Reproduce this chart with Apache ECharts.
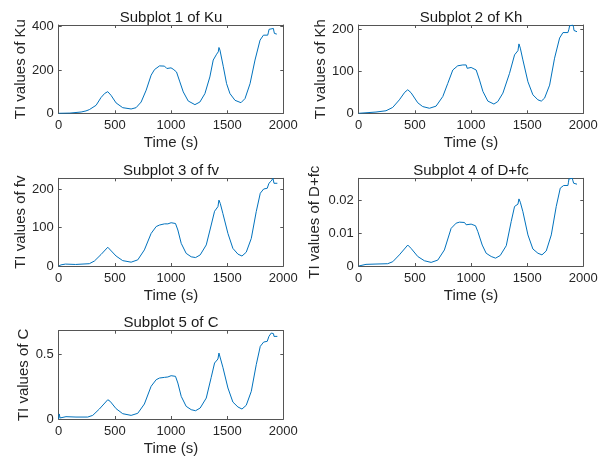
<!DOCTYPE html>
<html>
<head>
<meta charset="utf-8">
<script src="https://cdn.jsdelivr.net/npm/echarts@6/dist/echarts.min.js"></script>
<style>html,body{margin:0;padding:0;background:#fff}#c{width:613px;height:464px}</style>
</head>
<body>
<div id="c"></div>
<script>
// ---- data ----
const titles = ['Subplot 1 of Ku', 'Subplot 2 of Kh', 'Subplot 3 of fv', 'Subplot 4 of D+fc', 'Subplot 5 of C'];
const yNames = ['TI values of Ku', 'TI values of Kh', 'TI values of fv', 'TI values of D+fc', 'TI values of C'];
const xTicks = [0, 500, 1000, 1500, 2000];

const tKu = [0, 100, 200, 243, 273, 333, 377, 410, 437, 466, 511, 570, 645, 689, 734, 779, 823, 853, 898, 942, 958, 963, 1000, 1019, 1049, 1079, 1109, 1153, 1213, 1257, 1302, 1346, 1376, 1406, 1421, 1427, 1436, 1466, 1495, 1525, 1570, 1623, 1659, 1704, 1748, 1793, 1823, 1861, 1868, 1873, 1912, 1916, 1921, 1942];
const vKu = [0, 1, 6, 11, 17, 37, 73, 92, 100, 83, 48, 26, 20, 26, 52, 107, 176, 202, 219, 218, 217, 207, 210, 204, 191, 145, 99, 57, 40, 52, 91, 168, 246, 273, 284, 304, 292, 215, 137, 91, 60, 49, 68, 137, 246, 338, 361, 361, 375, 388, 392, 380, 369, 366];

const tKh = [0, 154, 243, 303, 362, 410, 437, 466, 526, 570, 630, 689, 749, 793, 838, 882, 927, 957, 966, 1001, 1046, 1076, 1106, 1150, 1204, 1239, 1284, 1343, 1388, 1418, 1427, 1439, 1462, 1507, 1551, 1596, 1626, 1655, 1700, 1744, 1789, 1819, 1863, 1872, 1878, 1908, 1913, 1917, 1944];
const vKh = [0, 3, 6, 14, 32, 50, 56, 49, 25, 16, 12, 17, 40, 71, 103, 113, 115, 115, 107, 109, 103, 79, 52, 29, 22, 28, 48, 95, 139, 149, 165, 155, 127, 75, 44, 32, 29, 36, 67, 131, 179, 192, 192, 200, 208, 210, 205, 197, 194];

const tFv = [0, 21, 60, 150, 273, 318, 377, 437, 452, 511, 570, 645, 704, 763, 823, 868, 898, 942, 957, 972, 1001, 1040, 1061, 1091, 1135, 1180, 1219, 1260, 1314, 1358, 1388, 1418, 1427, 1439, 1462, 1507, 1551, 1596, 1632, 1670, 1715, 1759, 1795, 1825, 1857, 1872, 1893, 1908, 1913, 1917, 1947];
const vFv = [0, 3, 5, 4, 6, 13, 30, 49, 46, 26, 14, 10, 16, 42, 85, 103, 107, 110, 105, 110, 113, 111, 94, 59, 33, 24, 22, 29, 55, 107, 143, 155, 172, 163, 137, 85, 46, 31, 26, 36, 72, 142, 190, 201, 203, 216, 222, 229, 222, 216, 216];

const tDfc = [0, 65, 154, 258, 303, 362, 437, 466, 526, 585, 645, 704, 763, 823, 868, 898, 942, 957, 1001, 1040, 1061, 1100, 1135, 1180, 1219, 1260, 1314, 1358, 1388, 1418, 1427, 1439, 1462, 1507, 1551, 1596, 1632, 1670, 1715, 1759, 1795, 1825, 1863, 1868, 1872, 1902, 1908, 1914, 1944];
const vDfc = [0, 0.0005, 0.0006, 0.0007, 0.0013, 0.0034, 0.0064, 0.0054, 0.0029, 0.0016, 0.0011, 0.0018, 0.0049, 0.0115, 0.0131, 0.0134, 0.0133, 0.0126, 0.0128, 0.0123, 0.0105, 0.0064, 0.0039, 0.0029, 0.0024, 0.0032, 0.0062, 0.0136, 0.0182, 0.0189, 0.0205, 0.0195, 0.0166, 0.0095, 0.0052, 0.0039, 0.0034, 0.0046, 0.0095, 0.0182, 0.0238, 0.0246, 0.0246, 0.0256, 0.0266, 0.0268, 0.026, 0.0253, 0.025];

const tC = [0, 5, 12, 65, 154, 258, 303, 362, 437, 458, 511, 570, 645, 704, 763, 823, 868, 898, 942, 957, 972, 1001, 1040, 1061, 1091, 1135, 1180, 1219, 1260, 1314, 1358, 1388, 1418, 1427, 1439, 1462, 1507, 1551, 1596, 1632, 1670, 1715, 1759, 1795, 1825, 1857, 1872, 1893, 1908, 1913, 1917, 1947];
const vC = [0, 0.039, 0.008, 0.018, 0.015, 0.015, 0.028, 0.077, 0.149, 0.137, 0.080, 0.041, 0.028, 0.044, 0.116, 0.253, 0.304, 0.317, 0.322, 0.309, 0.325, 0.335, 0.330, 0.278, 0.175, 0.098, 0.072, 0.064, 0.085, 0.162, 0.322, 0.433, 0.464, 0.510, 0.472, 0.400, 0.240, 0.131, 0.093, 0.077, 0.106, 0.214, 0.420, 0.562, 0.595, 0.601, 0.639, 0.665, 0.678, 0.66, 0.639, 0.639];

const yMax = [408, 210, 229, 0.0268, 0.683];
const yInterval = [200, 100, 100, 0.01, 0.5];
const seriesT = [tKu, tKh, tFv, tDfc, tC];
const seriesV = [vKu, vKh, vFv, vDfc, vC];

// ---- layout ----
const grids = [
  {left: 58.7, top: 25, width: 224.6, height: 88.3},
  {left: 358.7, top: 25, width: 224.6, height: 88.3},
  {left: 58.7, top: 178.3, width: 224.6, height: 87.7},
  {left: 358.7, top: 178.3, width: 224.6, height: 87.7},
  {left: 58.7, top: 330.7, width: 224.6, height: 88.3}
];
const yNameGap = [30, 30, 30, 36, 27];

const FONT = '"Liberation Sans", Arial, Helvetica, sans-serif';
const AX = '#262626';
const BOX = '#555555';

const option = {
  animation: false,
  backgroundColor: '#fff',
  title: [], grid: [], xAxis: [], yAxis: [], series: []
};

for (let i = 0; i < 5; i++) {
  const g = grids[i];
  option.grid.push({left: g.left, top: g.top, width: g.width, height: g.height, containLabel: false});
  option.title.push({
    text: titles[i], left: g.left + g.width / 2, top: g.top - 15, textAlign: 'center', padding: 0,
    textStyle: {fontFamily: FONT, fontSize: 15, fontWeight: 'normal', color: '#1a1a1a'}
  });
  const iv = yInterval[i];
  const fmtY = function (v) {
    const r = v / iv;
    if (Math.abs(r - Math.round(r)) > 1e-6) return '';
    return String(+v.toFixed(4));
  };
  const fmtX = function (v) { return xTicks.indexOf(v) >= 0 ? String(v) : ''; };
  option.xAxis.push({
    type: 'value', gridIndex: i, min: 0, max: 2000, interval: 500, position: 'bottom',
    name: 'Time (s)', nameLocation: 'middle', nameGap: 22,
    nameTextStyle: {fontFamily: FONT, fontSize: 15, color: AX},
    axisLine: {show: true, onZero: false, lineStyle: {color: BOX, width: 1}},
    axisTick: {show: true, inside: true, length: 3, lineStyle: {color: BOX}},
    axisLabel: {fontFamily: FONT, fontSize: 13, color: AX, margin: 6, formatter: fmtX},
    splitLine: {show: false}
  });
  option.xAxis.push({
    type: 'value', gridIndex: i, min: 0, max: 2000, interval: 500, position: 'top',
    axisLine: {show: true, onZero: false, lineStyle: {color: BOX, width: 1}},
    axisTick: {show: true, inside: true, length: 3, lineStyle: {color: BOX}},
    axisLabel: {show: false}, splitLine: {show: false}
  });
  option.yAxis.push({
    type: 'value', gridIndex: i, min: 0, max: yMax[i], interval: iv, position: 'left',
    name: yNames[i], nameLocation: 'middle', nameRotate: 90, nameGap: yNameGap[i],
    nameTextStyle: {fontFamily: FONT, fontSize: 15, color: AX},
    axisLine: {show: true, onZero: false, lineStyle: {color: BOX, width: 1}},
    axisTick: {show: true, inside: true, length: 3, lineStyle: {color: BOX}},
    axisLabel: {fontFamily: FONT, fontSize: 13, color: AX, margin: 5, formatter: fmtY},
    splitLine: {show: false}
  });
  option.yAxis.push({
    type: 'value', gridIndex: i, min: 0, max: yMax[i], interval: iv, position: 'right',
    axisLine: {show: true, onZero: false, lineStyle: {color: BOX, width: 1}},
    axisTick: {show: true, inside: true, length: 3, lineStyle: {color: BOX}},
    axisLabel: {show: false}, splitLine: {show: false}
  });
  const data = seriesT[i].map((t, k) => [t, seriesV[i][k]]);
  option.series.push({
    type: 'line', xAxisIndex: 2 * i, yAxisIndex: 2 * i, data: data,
    showSymbol: false, symbol: 'none', smooth: false,
    lineStyle: {color: '#0072BD', width: 1}, clip: true
  });
}

const chart = echarts.init(document.getElementById('c'), null, {renderer: 'canvas'});
chart.setOption(option);
</script>
</body>
</html>
